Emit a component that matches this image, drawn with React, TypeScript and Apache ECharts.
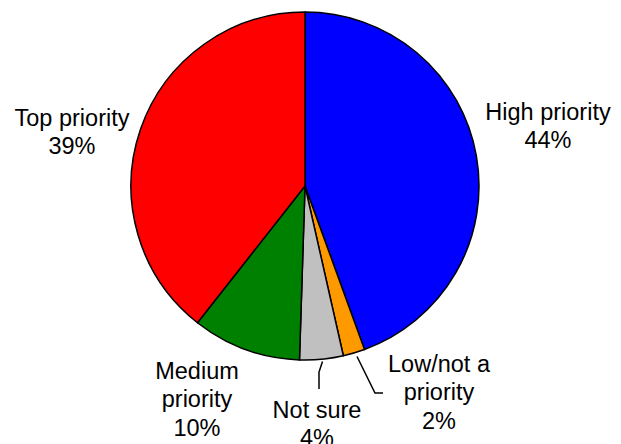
import React, { useEffect, useRef } from "react";
import * as echarts from "echarts";

const categories = ["High priority", "Low/not a priority", "Not sure", "Medium priority", "Top priority"];
const labelNames = ["High priority", "Low/not a\npriority", "Not sure", "Medium\npriority", "Top priority"];
const values = [44, 2, 4, 10, 39];
const colors = ["#0000FF", "#FF9900", "#C0C0C0", "#008000", "#FF0000"];

// label anchor positions (center x, middle y) and leader lines
const labelPos: [number, number][] = [
  [548, 126],
  [439, 392],
  [317, 424],
  [197, 399],
  [72, 132],
];
const leaderLines: ([number, number][] | null)[] = [
  null,
  [[357, 356.5], [375, 393], [383, 393]],
  [[322.5, 361.5], [319, 372], [319, 389]],
  null,
  null,
];

export default function App() {
  const ref = useRef<HTMLDivElement>(null);
  useEffect(() => {
    if (!ref.current) return;
    const chart = echarts.init(ref.current, undefined, { renderer: "svg" });
    chart.setOption({
      animation: false,
      backgroundColor: "#ffffff",
      series: [
        {
          type: "pie",
          center: [305, 186],
          radius: 174,
          startAngle: 90,
          clockwise: true,
          avoidLabelOverlap: false,
          itemStyle: { borderColor: "#000000", borderWidth: 1.5 },
          label: {
            show: true,
            color: "#000000",
            fontFamily: "Liberation Sans, Arial, sans-serif",
            fontSize: 23.5,
            lineHeight: 28.5,
            align: "center",
            overflow: "none",
            width: 300,
            formatter: (p: any) => `${labelNames[p.dataIndex]}\n${values[p.dataIndex]}%`,
          },
          labelLine: { show: false, lineStyle: { color: "#000000", width: 1.5 } },
          labelLayout: (params: any) => {
            const i = params.dataIndex;
            const res: any = {
              x: labelPos[i][0],
              y: labelPos[i][1],
              align: "center",
              verticalAlign: "middle",
            };
            if (leaderLines[i]) res.labelLinePoints = leaderLines[i];
            return res;
          },
          data: categories.map((c, i) => ({
            name: c,
            value: values[i],
            itemStyle: { color: colors[i] },
            labelLine: { show: !!leaderLines[i], smooth: false },
          })),
        },
      ],
    });
    return () => chart.dispose();
  }, []);
  return (
    <div
      ref={ref}
      style={{ position: "fixed", left: 0, top: 0, width: 621, height: 444 }}
    />
  );
}
